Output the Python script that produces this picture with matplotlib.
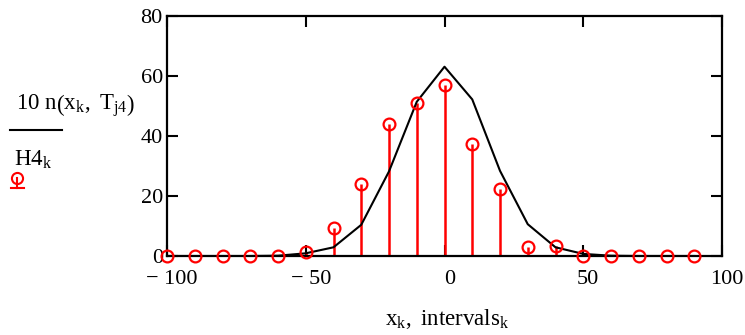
import matplotlib
matplotlib.use("Agg")
import matplotlib.pyplot as plt
from matplotlib.lines import Line2D
import matplotlib.transforms as mtransforms

plt.rcParams['font.family'] = ['Liberation Serif', 'DejaVu Serif']
plt.rcParams['mathtext.fontset'] = 'custom'
plt.rcParams['mathtext.rm'] = 'Liberation Serif'
plt.rcParams['mathtext.it'] = 'Liberation Serif'

# data
x_k = [-100, -90, -80, -70, -60, -50, -40, -30, -20, -10, 0, 10, 20, 30, 40, 50, 60, 70, 80, 90]
n_line = [0, 0, 0, 0, 0.1, 0.9, 2.9, 10.4, 28.2, 51.4, 63.1, 52.2, 28.4, 10.6, 2.9, 0.7, 0.1, 0, 0, 0]
H4 = [0, 0, 0, 0, 0, 1.3, 9.2, 24.1, 44.0, 51.1, 57.0, 37.2, 22.2, 3.1, 3.2, 0, 0, 0, 0, 0]
xticks = [-100, -50, 0, 50, 100]
xticklabels = ['\u2212 100', '\u2212 50', '0', '50', '100']
yticks = [0, 20, 40, 60, 80]

W, H = 745, 335
fig = plt.figure(figsize=(W / 100, H / 100), dpi=100)
ax = fig.add_axes([167 / W, 1 - 256 / H, (722 - 167) / W, (256 - 16) / H])

red = '#ff0000'
ax.plot(x_k, n_line, color='black', lw=1.5, zorder=3)
ax.vlines(x_k, 0, H4, color=red, lw=1.8, zorder=2)
ax.plot(x_k, H4, 'o', mfc='none', mec=red, mew=1.6, ms=8.5, ls='none', zorder=4, clip_on=False)

ax.set_xlim(-100, 100)
ax.set_ylim(0, 80)
ax.set_xticks(xticks)
ax.set_xticklabels(xticklabels)
ax.set_yticks(yticks)
ax.tick_params(direction='in', length=8, width=1.5, top=True, right=True,
               labelsize=16, color='black')
ax.tick_params(axis='x', pad=10)
ax.tick_params(axis='y', pad=3)
for s in ax.spines.values():
    s.set_linewidth(1.6)

xoff = mtransforms.ScaledTranslation(5 / 100, 0, fig.dpi_scale_trans)
for lab in ax.get_xticklabels():
    lab.set_transform(lab.get_transform() + xoff)

# stacked y label
fig.text(16 / W, 1 - 106 / H, r'$\mathrm{10\ n\left(x_k,\ T_{j4}\right)}$', fontsize=16.5,
         ha='left', va='center')
fig.add_artist(Line2D([10 / W, 62 / W], [1 - 130 / H, 1 - 130 / H], color='black', lw=1.5))
fig.text(14 / W, 1 - 160 / H, r'$\mathrm{H4_k}$', fontsize=16.5, ha='left', va='center')
# legend symbol
cx, cy = 17, 178
fig.add_artist(Line2D([cx / W], [1 - cy / H], marker='o', mfc='none', mec=red, mew=1.5, ms=8))
fig.add_artist(Line2D([cx / W, cx / W], [1 - cy / H, 1 - 188 / H], color=red, lw=1.5))
fig.add_artist(Line2D([11 / W, 24 / W], [1 - 188 / H, 1 - 188 / H], color=red, lw=1.5))

fig.text(385 / W, 1 - 319 / H, r'$\mathrm{x_k,\ intervals_k}$', fontsize=16.5, ha='left', va='center')

fig.savefig('out.png', dpi=100)
